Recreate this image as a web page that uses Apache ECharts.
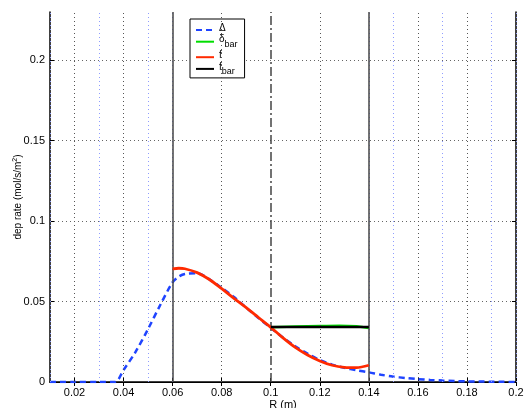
<!DOCTYPE html>
<html>
<head>
<meta charset="utf-8">
<script src="https://cdn.jsdelivr.net/npm/echarts@6/dist/echarts.min.js"></script>
<style>html,body{margin:0;padding:0;background:#fff}#c{width:528px;height:408px}</style>
</head>
<body>
<div id="c"></div>
<script>
// ---- data ----
const xTicks = [0.02, 0.04, 0.06, 0.08, 0.1, 0.12, 0.14, 0.16, 0.18, 0.2];
const yTicks = [0, 0.05, 0.1, 0.15, 0.2];
const majorGridX = [0.02, 0.04, 0.08, 0.12, 0.16, 0.18];
const minorGridX = [0.015, 0.02, 0.025, 0.03, 0.035, 0.04, 0.045, 0.05, 0.055,
                    0.145, 0.15, 0.155, 0.16, 0.165, 0.17, 0.175, 0.18, 0.185, 0.19, 0.195];
const boundaryX = [0.06, 0.14];
const midX = [0.1];

const deltaR = [0.01, 0.02, 0.03, 0.0365, 0.04, 0.045, 0.05, 0.055, 0.06, 0.0625, 0.065, 0.07, 0.075, 0.08, 0.085, 0.09, 0.095, 0.1, 0.105, 0.11, 0.115, 0.12, 0.125, 0.13, 0.135, 0.14, 0.145, 0.15, 0.155, 0.16, 0.165, 0.17, 0.175, 0.18, 0.185, 0.19, 0.195, 0.2];
const deltaV = [0, 0, 0, 0, 0.0075, 0.019, 0.033, 0.048, 0.062, 0.0655, 0.0672, 0.0676, 0.0638, 0.0585, 0.0528, 0.0462, 0.0398, 0.0337, 0.0276, 0.0222, 0.0176, 0.0137, 0.0108, 0.0088, 0.0073, 0.006, 0.0045, 0.0033, 0.0025, 0.0018, 0.0013, 0.0009, 0.0006, 0.0004, 0.0003, 0.0002, 0.0001, 0];

const dbarR = [0.1, 0.11, 0.12, 0.128, 0.135, 0.14];
const dbarV = [0.0341, 0.0345, 0.0348, 0.035, 0.0347, 0.0335];

const fR = [0.06, 0.0625, 0.065, 0.07, 0.075, 0.08, 0.085, 0.09, 0.095, 0.1, 0.105, 0.11, 0.115, 0.12, 0.125, 0.13, 0.135, 0.14];
const fV = [0.0703, 0.0707, 0.0704, 0.068, 0.0637, 0.058, 0.052, 0.0462, 0.0401, 0.034, 0.0274, 0.0215, 0.0168, 0.0131, 0.0104, 0.0091, 0.0089, 0.0104];

const fbarR = [0.1, 0.14];
const fbarV = [0.0342, 0.0342];

const pairs = (xs, ys) => xs.map((x, i) => [x, ys[i]]);

const chart = echarts.init(document.getElementById('c'), null, {renderer: 'canvas'});
const FONT = '"Liberation Sans", Arial, Helvetica, sans-serif';

const option = {
  animation: false,
  backgroundColor: '#fff',
  grid: {left: 50, right: 12, top: 12, bottom: 26, containLabel: false, outerBoundsMode: 'none'},
  legend: {
    orient: 'vertical',
    left: 190, top: 19,
    padding: [4, 7, 2, 5],
    backgroundColor: '#fff',
    borderColor: '#000', borderWidth: 1, borderRadius: 0,
    itemWidth: 18, itemHeight: 8, itemGap: 1.5,
    itemStyle: {opacity: 0, borderWidth: 0},
    textStyle: {fontFamily: FONT, fontSize: 10, color: '#000',
      rich: {
        m: {fontFamily: FONT, fontSize: 10, color: '#000', lineHeight: 14, verticalAlign: 'top'},
        s: {fontFamily: FONT, fontSize: 9, color: '#000', lineHeight: 14, verticalAlign: 'bottom'}
      }
    },
    formatter: function (name) {
      if (name === 'dbar') return '{m|δ}{s|bar}';
      if (name === 'fbar') return '{m|f}{s|bar}';
      return '{m|' + name + '}';
    },
    data: ['Δ', 'dbar', 'f', 'fbar']
  },
  xAxis: [{
    type: 'value', min: 0.01, max: 0.2, interval: 0.01,
    name: 'R (m)', nameLocation: 'middle', nameGap: 17, nameMoveOverlap: false,
    nameTextStyle: {fontFamily: FONT, fontSize: 11, color: '#000'},
    axisLine: {lineStyle: {color: '#000', width: 1.5}},
    axisTick: {inside: true, length: 4, customValues: xTicks, lineStyle: {color: '#000'}},
    axisLabel: {customValues: xTicks, fontFamily: FONT, fontSize: 11, color: '#000', margin: 5,
      formatter: v => String(+v.toFixed(2))},
    splitLine: {show: false}
  }, {
    type: 'value', min: 0.01, max: 0.2, interval: 0.01, position: 'top',
    axisLine: {lineStyle: {color: '#000', width: 1}},
    axisTick: {inside: true, length: 4, customValues: xTicks, lineStyle: {color: '#000'}},
    axisLabel: {show: false},
    splitLine: {show: false}
  }],
  yAxis: [{
    type: 'value', min: 0, max: 0.23, interval: 0.05,
    name: 'dep rate (mol/s/m{sup|2})', nameLocation: 'middle', nameGap: 26, nameMoveOverlap: false,
    nameTextStyle: {fontFamily: FONT, fontSize: 10, color: '#000',
      rich: {sup: {fontFamily: FONT, fontSize: 7, color: '#000', verticalAlign: 'top', padding: [0, 0, 5, 0]}}},
    axisLine: {lineStyle: {color: '#000', width: 1.5}},
    axisTick: {inside: true, length: 4, customValues: yTicks, lineStyle: {color: '#000'}},
    axisLabel: {customValues: yTicks, fontFamily: FONT, fontSize: 11, color: '#000', margin: 5},
    splitLine: {show: true, lineStyle: {color: '#666', type: [1, 3], width: 1}}
  }, {
    type: 'value', min: 0, max: 0.23, interval: 0.05, position: 'right',
    axisLine: {show: true, lineStyle: {color: '#000', width: 1.5}},
    axisTick: {inside: true, length: 4, customValues: yTicks, lineStyle: {color: '#000'}},
    axisLabel: {show: false},
    splitLine: {show: false}
  }],
  series: [
    {
      name: 'grid', type: 'line', data: [], silent: true, z: 1,
      markLine: {
        silent: true, symbol: 'none', label: {show: false}, animation: false,
        data: [
          ...minorGridX.map(x => ({xAxis: x, lineStyle: {color: '#8f9dff', type: [1, 3], width: 1}})),
          ...majorGridX.map(x => ({xAxis: x, lineStyle: {color: '#555', type: [1, 3], width: 1}})),
          ...boundaryX.map(x => ({xAxis: x, lineStyle: {color: '#444', type: 'solid', width: 1.5}})),
          ...midX.map(x => ({xAxis: x, lineStyle: {color: '#444', type: [9, 3, 2, 3], width: 1.5}}))
        ]
      }
    },
    {
      name: 'Δ', type: 'line', data: pairs(deltaR, deltaV), smooth: 0.3,
      showSymbol: false, symbol: 'none', z: 3,
      lineStyle: {color: '#1f44ff', width: 2.5, type: [6, 4]}, itemStyle: {color: '#1f44ff'}
    },
    {
      name: 'dbar', type: 'line', data: pairs(dbarR, dbarV), smooth: 0.4,
      showSymbol: false, symbol: 'none', z: 4,
      lineStyle: {color: '#00dd00', width: 2.5}, itemStyle: {color: '#00dd00'}
    },
    {
      name: 'f', type: 'line', data: pairs(fR, fV), smooth: 0.3,
      showSymbol: false, symbol: 'none', z: 5,
      lineStyle: {color: '#ff2a00', width: 2.8}, itemStyle: {color: '#ff2a00'}
    },
    {
      name: 'fbar', type: 'line', data: pairs(fbarR, fbarV),
      showSymbol: false, symbol: 'none', z: 6,
      lineStyle: {color: '#000', width: 2.5}, itemStyle: {color: '#000'}
    }
  ]
};
chart.setOption(option);
</script>
</body>
</html>
